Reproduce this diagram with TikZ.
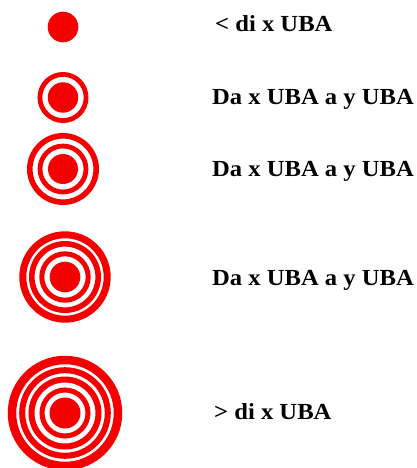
\documentclass[tikz,border=0pt]{standalone}
\usepackage{fontspec}
\setmainfont{Liberation Serif}[FakeStretch=1.07]
\definecolor{tred}{RGB}{245,0,0}
\begin{document}
\begin{tikzpicture}[x=1pt,y=-1pt,
  disk/.style={fill=tred,draw=none},
  ring/.style={draw=tred},
  lbl/.style={anchor=base west,inner sep=0pt,font=\fontsize{23}{27}\selectfont\bfseries}]
\useasboundingbox (0,0) rectangle (417,468);
\clip (0,0) rectangle (417,468);
% target 1
\fill[disk] (63,27) circle (15.3);
% target 2
\fill[disk] (63,97.5) circle (15.2);
\draw[ring,line width=4.8] (63,97.5) circle (23.1);
% target 3
\fill[disk] (63,169) circle (15);
\draw[ring,line width=4.8] (63,169) circle (23);
\draw[ring,line width=5.6] (63,169) circle (33.2);
% target 4
\fill[disk] (65,277) circle (15.3);
\draw[ring,line width=5] (65,277) circle (23.2);
\draw[ring,line width=5.6] (65,277) circle (33.2);
\draw[ring,line width=7] (65,277) circle (42.2);
% target 5
\fill[disk] (65,413) circle (15.5);
\draw[ring,line width=5] (65,413) circle (23);
\draw[ring,line width=6] (65,413) circle (33.5);
\draw[ring,line width=6] (65,413) circle (42.8);
\draw[ring,line width=8.5] (65,413) circle (53);
% labels
\node[lbl] (t1) at (215,32) {< di x UBA};
\node[lbl] (t2) at (212,105) {Da x UBA a y UBA};
\node[lbl] (t3) at (212,176.7) {Da x UBA a y UBA};
\node[lbl] (t4) at (212,285.7) {Da x UBA a y UBA};
\node[lbl] (t5) at (214,419) {> di x UBA};
\end{tikzpicture}
\end{document}
